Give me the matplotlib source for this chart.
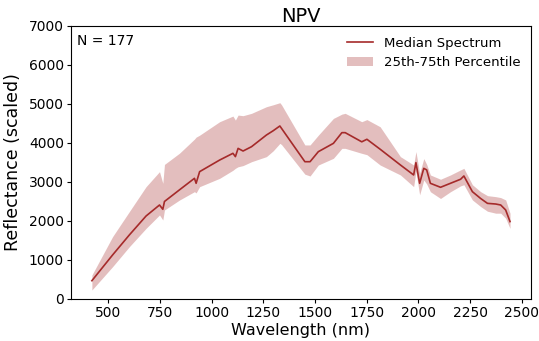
import matplotlib
matplotlib.use('Agg')
import numpy as np
import matplotlib.pyplot as plt

# Wavelengths (nm) and reflectance values
wavelength = [421, 521, 602, 683, 748, 764, 772, 845, 917, 925, 942, 1039, 1103, 1115,
              1128, 1152, 1193, 1265, 1298, 1330, 1338, 1451, 1476, 1516, 1589, 1630,
              1646, 1726, 1751, 1815, 1913, 1977, 1988, 2006, 2026, 2040, 2058, 2107,
              2155, 2204, 2220, 2261, 2301, 2334, 2374, 2398, 2422, 2443]

median = [469, 1128, 1641, 2128, 2410, 2300, 2500, 2800, 3094, 2966, 3265, 3563, 3735, 3650,
          3862, 3794, 3905, 4204, 4315, 4436, 4375, 3520, 3520, 3777, 3991, 4265,
          4265, 4030, 4095, 3840, 3436, 3180, 3496, 2966, 3350, 3310, 2966, 2864,
          2966, 3070, 3154, 2752, 2577, 2452, 2435, 2410, 2282, 1985]

p75 = [613, 1598, 2240, 2880, 3265, 2966, 3450, 3740, 4100, 4150, 4200, 4546, 4690, 4587,
       4715, 4700, 4760, 4930, 4980, 5033, 4980, 3950, 3950, 4200, 4630, 4740,
       4760, 4546, 4600, 4416, 3650, 3436, 3780, 3220, 3600, 3450, 3180, 3070,
       3180, 3310, 3350, 2930, 2752, 2650, 2624, 2600, 2540, 2200]

p25 = [230, 828, 1340, 1811, 2154, 2025, 2282, 2538, 2752, 2720, 2880, 3094, 3300, 3350,
       3390, 3420, 3520, 3650, 3800, 3990, 3960, 3200, 3154, 3435, 3607, 3862,
       3862, 3735, 3700, 3435, 3180, 2880, 3270, 2670, 3050, 2950, 2750, 2577,
       2750, 2900, 2930, 2540, 2370, 2250, 2200, 2200, 2070, 1810]

n_samples = 177

fig = plt.figure(figsize=(5.39, 3.41), dpi=100)
ax = fig.add_axes([0.1317, 0.1232, 0.8533, 0.8006])

ax.plot(wavelength, median, color='brown', linewidth=1.2, label='Median Spectrum')
ax.fill_between(wavelength, p25, p75, color='brown', alpha=0.3, linewidth=0,
                label='25th-75th Percentile')

ax.set_ylim(0, 7000)
ax.set_title('NPV', fontsize=14, pad=3)
ax.set_xlabel('Wavelength (nm)', fontsize=11.5, labelpad=2)
ax.set_ylabel('Reflectance (scaled)', fontsize=12.5, labelpad=5)
ax.tick_params(labelsize=10, length=3, pad=2)
ax.text(0.013, 0.97, f'N = {n_samples}', transform=ax.transAxes, ha='left', va='top', fontsize=10)
ax.legend(loc='upper right', frameon=False, fontsize=9.5, borderaxespad=0.4)

plt.savefig('out.png', dpi=100)
plt.close()
